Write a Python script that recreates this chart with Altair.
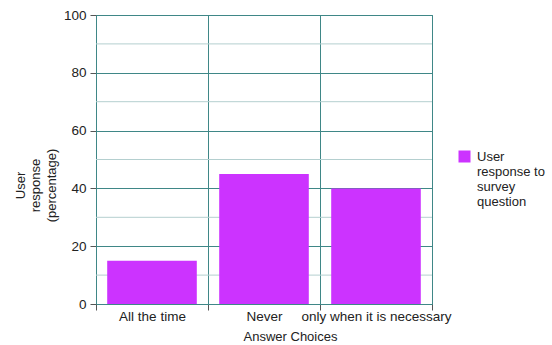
import altair as alt
import pandas as pd

categories = ["All the time", "Never", "only when it is necessary"]
values = [15, 45, 40]
series_name = "User response to survey question"
minor_ticks = [10, 30, 50, 70, 90]

df = pd.DataFrame({"choice": categories, "pct": values, "series": [series_name] * len(categories)})
minor_df = pd.DataFrame({"v": minor_ticks})

FONT = "Liberation Sans"
TEAL = "#3f8787"
MINOR = "#b4cfcf"
TXT = "#222222"

minor = alt.Chart(minor_df).mark_rule(color=MINOR, strokeWidth=1).encode(
    y=alt.Y("v:Q", scale=alt.Scale(domain=[0, 100]))
)

bars = alt.Chart(df).mark_bar(width=alt.RelativeBandSize(0.8), color="#cc33ff").encode(
    x=alt.X(
        "choice:N",
        sort=categories,
        scale=alt.Scale(paddingInner=0, paddingOuter=0),
        axis=alt.Axis(
            title="Answer Choices",
            labelAngle=0,
            tickBand="extent",
            grid=True,
            gridColor=TEAL,
            gridWidth=1,
            domainColor=TEAL,
            tickColor="#555555",
            tickSize=6,
            labelPadding=-1,
            labelFontSize=13.5,
            labelColor=TXT,
            titleFontSize=13,
            titleFontWeight="normal",
            titleColor=TXT,
            titleX=194,
            titleY=32,
            titleBaseline="middle",
            titleAlign="center",
        ),
    ),
    y=alt.Y(
        "pct:Q",
        scale=alt.Scale(domain=[0, 100]),
        axis=alt.Axis(
            title=["User", "response", "(percentage)"],
            values=[0, 20, 40, 60, 80, 100],
            grid=True,
            gridColor=TEAL,
            gridWidth=1,
            domainColor=TEAL,
            tickColor="#555555",
            tickSize=6,
            labelPadding=4,
            labelFontSize=13.5,
            labelColor=TXT,
            titleFontSize=13,
            titleFontWeight="normal",
            titleColor=TXT,
            titleAngle=-90,
            titleX=-82,
            titleY=170,
            titleBaseline="top",
            titleAlign="center",
            titleLineHeight=15.5,
        ),
    ),
    fill=alt.Fill(
        "series:N",
        scale=alt.Scale(range=["#cc33ff"]),
        legend=alt.Legend(
            title=None,
            orient="none",
            legendX=362,
            legendY=135,
            padding=0,
            symbolType="square",
            symbolSize=144,
            symbolStrokeWidth=0,
            labelFontSize=13,
            labelColor=TXT,
            labelOffset=6,
            labelBaseline="middle",
            labelExpr="['User', 'response to', 'survey', 'question']",
        ),
    ),
)

chart = alt.layer(minor, bars).properties(
    width=336,
    height=289,
    autosize=alt.AutoSizeParams(type="none"),
    padding={"left": 96, "top": 15, "right": 120, "bottom": 41},
).configure(font=FONT).configure_view(stroke=TEAL, strokeWidth=1).configure_axis(
    labelFont=FONT, titleFont=FONT
).configure_legend(labelFont=FONT)

chart.save("out.html", embed_options={"renderer": "svg", "actions": False})
